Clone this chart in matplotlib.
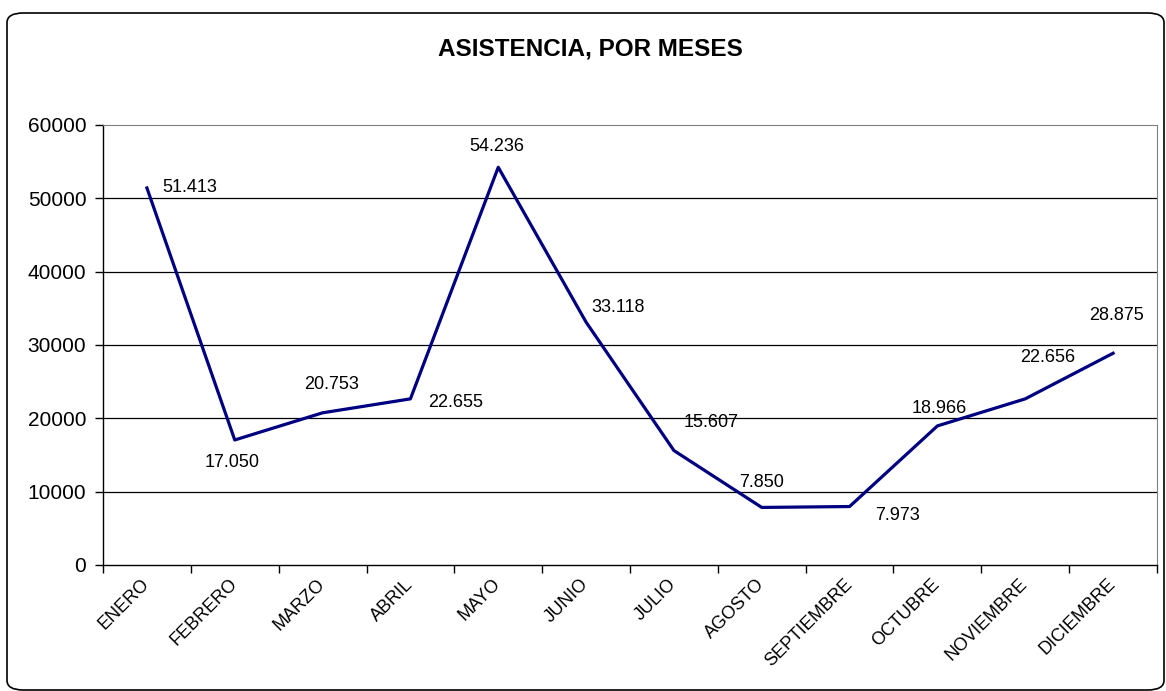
import matplotlib
matplotlib.use('Agg')
import matplotlib.pyplot as plt
from matplotlib.patches import FancyBboxPatch

# data
meses = ['ENERO', 'FEBRERO', 'MARZO', 'ABRIL', 'MAYO', 'JUNIO', 'JULIO',
         'AGOSTO', 'SEPTIEMBRE', 'OCTUBRE', 'NOVIEMBRE', 'DICIEMBRE']
asistencia = [51413, 17050, 20753, 22655, 54236, 33118, 15607,
              7850, 7973, 18966, 22656, 28875]
etiquetas = ['51.413', '17.050', '20.753', '22.655', '54.236', '33.118',
             '15.607', '7.850', '7.973', '18.966', '22.656', '28.875']
yticks = [0, 10000, 20000, 30000, 40000, 50000, 60000]

# label offsets in pixels (dx, dy), Excel-like placement
offsets = [(43, 0), (-3, -23), (9, 28), (45, -4), (-1, 21), (32, 15),
           (37, 28), (0, 25), (48, -9), (2, 17), (22, 41), (3, 38)]

plt.rcParams['font.family'] = ['Liberation Sans', 'DejaVu Sans']

fig = plt.figure(figsize=(11.66, 6.91), dpi=100)

# rounded outer frame
frame = FancyBboxPatch((7 / 1166, 1 / 691), 1157 / 1166, 677 / 691,
                       boxstyle='round,pad=0,rounding_size=0.014',
                       transform=fig.transFigure, fill=False,
                       edgecolor='black', linewidth=1.2)
fig.patches.append(frame)

ax = fig.add_axes([103 / 1166, 126 / 691, 1054 / 1166, 440 / 691])

x = list(range(len(meses)))
ax.plot(x, asistencia, color='#000080', linewidth=2.3, zorder=3)

for i in x:
    ax.annotate(etiquetas[i], (x[i], asistencia[i]), xytext=offsets[i],
                textcoords='offset pixels', ha='center', va='center',
                fontsize=13, color='black')

ax.set_xlim(-0.5, len(meses) - 0.5)
ax.set_ylim(0, 60000)
ax.set_yticks(yticks)
ax.set_yticklabels([str(v) for v in yticks], fontsize=15)
ax.set_xticks([i - 0.5 for i in range(len(meses) + 1)])
ax.set_xticklabels([])
ax.set_xticks(x, minor=True)
ax.set_xticklabels(meses, minor=True, rotation=45, ha='right', va='center',
                   rotation_mode='anchor', fontsize=13)
ax.tick_params(axis='x', which='minor', length=0, pad=12)
ax.tick_params(axis='x', which='major', length=6, width=1, direction='out')
ax.tick_params(axis='y', length=6, width=1, pad=6)

for v in yticks[1:-1]:
    ax.axhline(v, color='black', linewidth=0.9, zorder=1)

ax.spines['top'].set_color('#808080')
ax.spines['right'].set_color('#808080')
ax.spines['left'].set_linewidth(1)
ax.spines['bottom'].set_linewidth(1)

fig.text(590 / 1166, 1 - 49 / 691, 'ASISTENCIA, POR MESES', ha='center',
         va='center', fontsize=17.5, fontweight='bold')

fig.savefig('out.png', dpi=100)
